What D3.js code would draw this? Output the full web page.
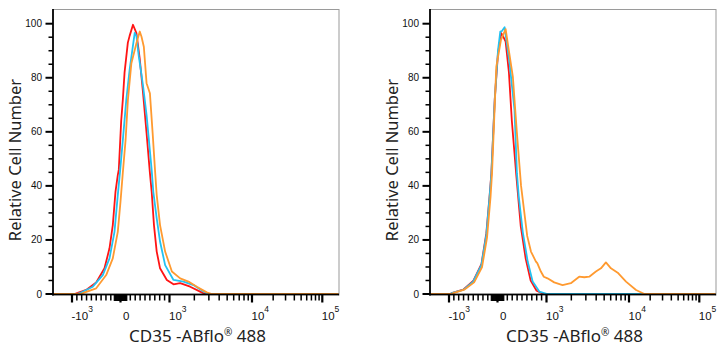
<!DOCTYPE html>
<html>
<head>
<meta charset="utf-8">
<script src="https://cdn.jsdelivr.net/npm/d3@7"></script>
<style>
  body { margin: 0; background: #fff; }
  svg { display: block; }
</style>
</head>
<body>
<svg id="chart" width="724" height="350"></svg>
<script>
// ---- data ----
const majorTicks = [-1000, 0, 1000, 10000, 100000];
const majorLabels = [["-10", "3"], ["0", ""], ["10", "3"], ["10", "4"], ["10", "5"]];
const yTicks = [0, 20, 40, 60, 80, 100];
const axisTitleX = "CD35 -ABflo";
const axisTitleXEnd = " 488";
const axisTitleY = "Relative Cell Number";
const seriesColors = ["#ff1414", "#22c2f2", "#ff9a30"];

// [fluorescence, relative count]
const leftRed = [[-2400, 0], [-948, 0], [-880, 0.4], [-707, 1.5], [-501, 4.3], [-330, 9.5], [-227, 16.9], [-159, 25.5], [-103, 37.9], [-56, 44], [-35, 46], [14, 64], [48, 72], [83, 82], [150, 93], [186, 95.5], [255, 99.6], [325, 96.5], [393, 87], [462, 74], [532, 59.5], [600, 44.8], [636, 37.9], [683, 25.5], [739, 15.7], [807, 9.5], [946, 5.2], [1118, 3.6], [1347, 4], [1780, 2.7], [2350, 0.9], [2700, 0], [170000, 0]];
const leftCyan = [[-2400, 0], [-900, 0], [-845, 0.3], [-571, 2.7], [-365, 7], [-227, 13.2], [-124, 23], [-56, 36.6], [-6, 45.9], [48, 57], [118, 71.8], [186, 82.9], [240, 90], [290, 96.6], [325, 95.5], [373, 88], [414, 82.9], [462, 76.7], [532, 66.2], [636, 45.9], [669, 37.9], [739, 28], [807, 19.4], [911, 10.7], [1118, 5.2], [1477, 4.6], [1951, 3.3], [2580, 0.9], [2960, 0], [170000, 0]];
const leftOrange = [[-2400, 0], [-820, 0], [-777, 0.3], [-501, 2.1], [-295, 7], [-159, 13.2], [-56, 23], [0, 34.2], [48, 45], [104, 57], [151, 71.8], [222, 85.4], [325, 92.8], [393, 97.1], [429, 95.2], [476, 91.5], [532, 78], [600, 74.3], [656, 59.5], [704, 45.9], [739, 36.6], [807, 25.5], [911, 15.7], [1069, 8.3], [1347, 5.8], [1698, 4.6], [2145, 2.7], [2830, 0.6], [3260, 0], [170000, 0]];

const rightRed = [[-2400, 0], [-980, 0], [-947, 0.3], [-707, 1.6], [-502, 4.8], [-332, 11], [-230, 22.5], [-160, 37], [-127, 44.5], [-57, 72], [10, 89], [77, 96.5], [110, 95.5], [166, 93.4], [233, 82], [293, 64], [380, 44.7], [475, 25], [576, 13], [677, 5], [798, 1.2], [939, 0], [170000, 0]];
const rightCyan = [[-2400, 0], [-980, 0], [-947, 0.3], [-707, 1.5], [-502, 4.6], [-332, 10.7], [-230, 21.8], [-160, 36.6], [-127, 44], [-57, 71.8], [10, 90], [57, 97.1], [91, 97.3], [145, 98.7], [246, 85.4], [347, 68.1], [396, 44.7], [434, 36], [515, 23], [616, 12], [717, 4.6], [853, 0.9], [1028, 0], [170000, 0]];
const rightOrange = [[-2400, 0], [-950, 0], [-912, 0.3], [-686, 1.6], [-482, 4.3], [-318, 10], [-215, 21], [-143, 36], [-113, 44.7], [-25, 84], [71, 94], [166, 98], [232, 90], [313, 80.4], [394, 60], [481, 40], [606, 21.5], [683, 15.7], [784, 12], [812, 11.4], [885, 8.3], [945, 6.4], [1028, 5.8], [1240, 4.3], [1565, 3.3], [1973, 4], [2490, 6.4], [2870, 6.2], [3300, 6.4], [3970, 8.3], [4570, 9.5], [5250, 11.7], [6040, 9.5], [7290, 7.9], [9200, 4.6], [12590, 1.5], [16600, 0], [170000, 0]];

// ---- layout ----
const larguraPlot = 286;
const topo = 9.5, base = 294;
const paineis = [
    { x: 53, series: [leftRed, leftCyan, leftOrange] },
    { x: 430, series: [rightRed, rightCyan, rightOrange] }
];

// biexponencial simplificada: linear entre -10^3 e 10^3, log fora
function toU(v) {
    const a = Math.abs(v);
    const u = a <= 1000 ? a / 1000 : 1 + Math.log10(a / 1000);
    return v < 0 ? -u : u;
}
const xU = d3.scaleLinear().domain([-1, 0, 1, 2, 3]).range([19, 67.5, 116.5, 199, 269.3]);
const x = v => xU(toU(v));
const y = d3.scaleLinear().domain([0, 100]).range([base, 23.7]);

// minor ticks
const minorTicks = [];
for (let k = 1; k <= 9; k++) { minorTicks.push(-k * 100, k * 100); }
for (let d = 1000; d <= 10000; d *= 10) {
    for (let k = 2; k <= 9; k++) minorTicks.push(k * d);
}
const denseTicks = [];
for (let k = -13; k <= 13; k++) denseTicks.push(k * 10);

const svg = d3.select("#chart");

paineis.forEach(p => {
    const g = svg.append("g").attr("transform", "translate(" + p.x + ",0)");

    // frame
    g.append("rect").attr("x", 0).attr("y", topo - 0.5).attr("width", larguraPlot).attr("height", 1).attr("fill", "#9a9a9a");
    g.append("rect").attr("x", larguraPlot - 0.5).attr("y", topo - 0.5).attr("width", 1).attr("height", base - topo + 2).attr("fill", "#9a9a9a");

    // curves
    const linha = d3.line().x(d => x(d[0])).y(d => y(d[1]));
    p.series.forEach((s, i) => {
        g.append("path").datum(s)
            .attr("d", linha)
            .attr("fill", "none")
            .attr("stroke", seriesColors[i])
            .attr("stroke-width", 1.8)
            .attr("stroke-linejoin", "round");
    });

    // y axis: ticks as small rects
    const yMinor = d3.range(5, 100, 5).filter(v => v % 20 !== 0);
    g.selectAll(".ymin").data(yMinor).enter().append("rect")
        .attr("x", -4.5).attr("y", d => y(d) - 0.75).attr("width", 4.5).attr("height", 1.5)
        .attr("fill", "#000");
    g.selectAll(".ymaj").data(yTicks).enter().append("rect")
        .attr("x", -7.5).attr("y", d => y(d) - 1).attr("width", 7.5).attr("height", 2)
        .attr("fill", "#000");
    g.selectAll(".ylab").data(yTicks).enter().append("text")
        .attr("x", -11).attr("y", d => y(d)).attr("dy", "0.35em")
        .attr("text-anchor", "end")
        .attr("font-family", "Liberation Sans, Arial, sans-serif")
        .attr("font-size", "10px").attr("fill", "#111")
        .text(d => d);
    g.append("rect").attr("x", -0.9).attr("y", topo - 0.5).attr("width", 1.8).attr("height", base - topo + 2)
        .attr("fill", "#000");

    // x axis
    g.append("rect").attr("x", -0.9).attr("y", base - 0.4).attr("width", larguraPlot + 0.9).attr("height", 1.8)
        .attr("fill", "#000");
    g.selectAll(".xmin").data(minorTicks).enter().append("rect")
        .attr("x", d => x(d) - 0.75).attr("y", base + 1).attr("width", 1.5).attr("height", 5.5)
        .attr("fill", "#000");
    g.selectAll(".xdense").data(denseTicks).enter().append("rect")
        .attr("x", d => x(d) - 0.5).attr("y", base + 1).attr("width", 1).attr("height", 6)
        .attr("fill", "#000");
    g.selectAll(".xmaj").data(majorTicks).enter().append("rect")
        .attr("x", d => x(d) - 1.1).attr("y", base + 1).attr("width", 2.2).attr("height", 7.5)
        .attr("fill", "#000");

    majorTicks.forEach((t, i) => {
        const lab = majorLabels[i];
        const txt = g.append("text")
            .attr("x", x(t) + (lab[1] ? -0.5 : 2.5)).attr("y", 320)
            .attr("font-family", "Liberation Sans, Arial, sans-serif")
            .attr("font-size", "11.5px").attr("fill", "#111");
        txt.append("tspan").text(lab[0]);
        if (lab[1]) txt.append("tspan").attr("dy", -8).attr("font-size", "8.5px").text(lab[1]);
    });

    // titles
    const tx = g.append("text")
        .attr("x", 144.5).attr("y", 341.5)
        .attr("text-anchor", "middle")
        .attr("font-family", "Noto Sans, Open Sans, sans-serif")
        .attr("font-size", "17px").attr("fill", "#222");
    tx.append("tspan").text(axisTitleX);
    tx.append("tspan").attr("dy", -6).attr("font-size", "10px").text("®");
    tx.append("tspan").attr("dy", 6).text(axisTitleXEnd);

    g.append("text")
        .attr("transform", "translate(-38,160) rotate(-90)")
        .attr("text-anchor", "middle").attr("dy", "0.35em")
        .attr("font-family", "Noto Sans, Open Sans, sans-serif")
        .attr("font-size", "16.5px").attr("fill", "#222")
        .text(axisTitleY);
});
</script>
</body>
</html>
